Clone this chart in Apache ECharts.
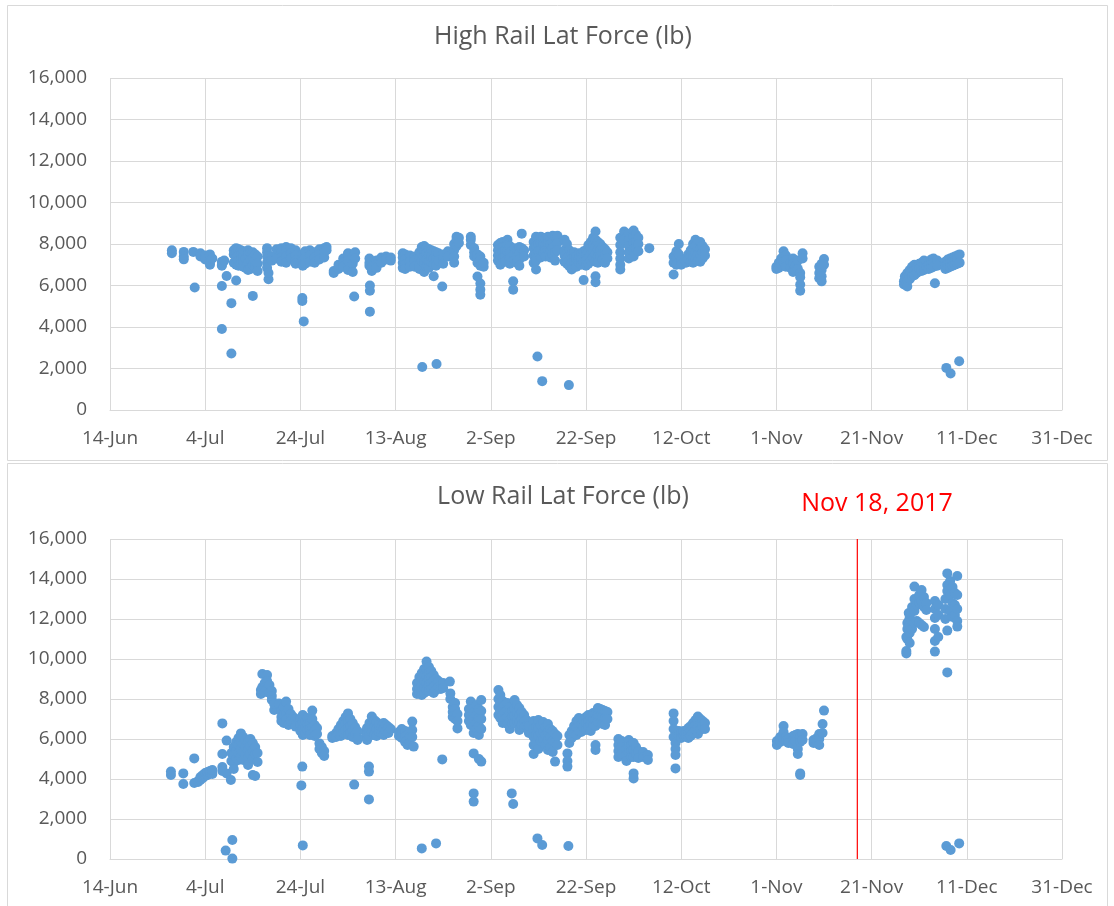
<!DOCTYPE html>
<html>
<head>
<meta charset="utf-8">
<title>Rail Lat Force</title>
<script src="https://cdn.jsdelivr.net/npm/echarts@6/dist/echarts.min.js"></script>
<style>
  html, body { margin: 0; padding: 0; background: #ffffff; }
  #chart { width: 1114px; height: 906px; }
</style>
</head>
<body>
<div id="chart"></div>
<script>
// x values are days after 14-Jun-2017; each entry is [day, [forces in lb]]
const dateTicks = ['14-Jun', '4-Jul', '24-Jul', '13-Aug', '2-Sep', '22-Sep', '12-Oct', '1-Nov', '21-Nov', '11-Dec', '31-Dec'];
const forceTicks = [0, 2000, 4000, 6000, 8000, 10000, 12000, 14000, 16000];
const markerDay = 157; // Nov 18, 2017
const markerText = 'Nov 18, 2017';

const highRail = [
  [13, [7700, 7560]], [15.5, [7620, 7400, 7260]], [17.5, [7620]], [17.8, [5900]],
  [19, [7550, 7400]], [20, [7450, 7250]], [21, [7500, 7100, 7000]], [21.5, [7300]],
  [23.5, [7150, 7000, 6950, 5980, 3900]], [24, [7200]], [24.5, [6460]], [25.5, [5150, 2720]],
  [26, [7700, 7500, 7100]], [26.5, [7800, 7600, 7350, 7000, 6240]],
  [27, [7750, 7450, 7200, 6950]], [27.5, [7700, 7500, 7250, 7050]], [28, [7650, 7400, 7150, 6900]],
  [28.5, [7600, 7300, 6850]], [29, [7700, 7500, 7100, 6750]], [29.5, [7550, 7250, 6800]],
  [30, [7600, 7350, 7000, 5500]], [30.5, [7500, 7200, 6900]], [31, [7400, 7050, 6700]],
  [33, [7800, 7600, 7400, 7100, 6850]], [33.3, [6300, 6600]], [34, [7350, 7200]],
  [35, [7750, 7500, 7300]], [36, [7800, 7600, 7350, 7150]], [37, [7850, 7700, 7400, 7100]],
  [38, [7800, 7550, 7300]], [39, [7700, 7450, 7200, 7050]], [40.4, [5400, 5250]], [40.7, [4270]],
  [40.5, [7500, 7200, 6950]], [41, [7650, 7350, 7050]], [42, [7700, 7450, 7150]],
  [43, [7600, 7350, 7100]], [44, [7750, 7500, 7250]], [45, [7800, 7600, 7350]], [45.5, [7850, 7700]],
  [47, [6700, 6600]], [48, [6800, 7000]], [49, [7300, 7100, 6900]], [50, [7550, 7500, 7200, 6750]],
  [51, [7400, 7050, 6650]], [51.3, [5470]], [51.5, [7600, 7300]],
  [54.5, [7300, 7100, 6950]], [54.6, [6000, 5750, 4740]], [55, [6700, 6900]], [56, [7200, 7000, 6850]],
  [57, [7350, 7100]], [58, [7400, 7250]], [59, [7350, 7200]],
  [61.5, [7550, 7350, 7100, 6850]], [62, [7500, 7250, 7000, 6800]], [63, [7450, 7150, 6900]],
  [64, [7400, 7200, 6900]], [65.6, [2070]], [68.6, [2220]],
  [65, [7600, 7300, 7000, 6800]], [65.5, [7850, 7500, 7200]], [66, [7900, 7650, 7400, 7100, 6650]],
  [66.5, [7800, 7550, 7250, 6900]], [67, [7750, 7450, 7150, 6850]], [67.5, [7700, 7400, 7100]],
  [68, [7650, 7300, 7000, 6450]], [68.5, [7600, 7250, 6950]], [69, [7550, 7200]], [69.8, [5950]],
  [70, [7500, 7300, 7050]], [71, [7650, 7400]], [72.3, [8000, 7700, 7400, 7100]],
  [72.8, [8350, 8200, 7900]], [73.3, [8300, 8050]], [75.8, [8350, 8200, 7950]],
  [76.5, [7800, 7600, 7400]], [77.2, [7500, 7300, 7100, 6430]], [77.8, [7400, 7200, 6950, 6100, 5800, 5550]],
  [78.5, [6900, 7100]],
  [81.5, [7950, 7700, 7450, 7200]], [82, [8050, 7800, 7550, 7300, 7000]], [82.5, [8100, 7850, 7600, 7350]],
  [83, [7900, 7700, 7400, 7150]], [83.5, [8200, 7950, 7650]], [84, [7900, 7600, 7300, 7050]],
  [84.7, [6200, 5800]], [85, [7800, 7500, 7250]], [85.5, [7700, 7400, 7100]],
  [86, [7850, 7550, 7250, 6950]], [86.5, [8500, 7800]], [87, [7700, 7400]],
  [89, [8100, 7800, 7450, 7100]], [89.5, [8350, 7900, 7500, 7200, 6770]], [89.8, [2580]], [90.8, [1390]], [96.4, [1200]],
  [90, [8300, 8000, 7650]], [90.5, [8350, 8050, 7700, 7350]], [91, [8300, 8000, 7600]],
  [91.5, [8250, 7950, 7700, 7400]], [92, [8350, 8050, 7750]], [92.5, [8300, 8000, 7650, 7350]],
  [93, [8400, 8100, 7800, 7500]], [93.5, [8350, 7900, 7600, 7200]], [94, [8400, 8050, 7700]],
  [95.5, [8200, 7700, 7450, 7150]], [96, [8000, 7600, 7300, 7050]], [96.5, [7700, 7450, 7200, 6930]],
  [97, [7500, 7300, 7100, 6770]], [97.5, [7600, 7350, 7150]], [98, [7450, 7250, 7050, 6900]],
  [98.5, [7550, 7300, 7100]], [99, [7500, 7250, 7000]], [99.5, [7650, 7400, 7150, 6260]],
  [100, [7700, 7450, 7200, 6950]], [100.5, [7950, 7600, 7300, 7050]], [101, [8100, 7800, 7500, 7200]],
  [101.5, [8300, 7950, 7650, 7350]], [102, [8600, 8200, 7850, 7500, 7150, 6450, 6160]],
  [102.5, [8100, 7750, 7400, 7100]], [103, [8000, 7700, 7400]], [103.5, [7850, 7550, 7250]],
  [104, [7750, 7450, 7100]], [104.5, [7600, 7300]],
  [107.2, [8300, 7950, 7600, 7300, 7000, 6770]], [108, [8600, 8200]], [109, [8500, 8200, 7900, 7600, 7300]],
  [110, [8650, 8350, 8050, 7750, 7400]], [110.5, [8450, 8100, 7800]], [111, [8300, 8000, 7650]], [113.3, [7800]],
  [118.4, [7400, 7100, 6530]], [119, [7650, 7300, 7000]], [119.5, [8000, 7500]], [120, [7200, 7000]],
  [121, [7300, 7100]], [121.5, [7500, 7250]], [122, [7700, 7400, 7150]], [122.5, [8000, 7650, 7350, 7100]],
  [123, [8200, 7900, 7550, 7250]], [123.5, [8100, 7800, 7500, 7200]], [124, [8100, 7750, 7450, 7150]],
  [124.5, [7900, 7600, 7300]], [125, [7750, 7450]],
  [140, [6900, 6800]], [140.5, [7100, 6850]], [141, [7300, 7050]], [141.5, [7650, 7400, 7150]],
  [142, [7450, 7200, 6900]], [143, [7100, 6850]], [143.5, [7300, 7050, 6650]], [144, [6950, 6700]],
  [144.5, [7200, 6800]], [145, [6600, 6400, 6050, 5750]], [145.5, [7550, 7300]],
  [149, [6900, 6600, 6350]], [149.5, [7050, 6750, 6450, 6200]], [150, [7280, 7000]],
  [166.8, [6200, 6050]], [167, [6450, 6300]], [167.5, [6600, 6400, 6200, 5950]], [168, [6750, 6500, 6300]],
  [168.5, [6900, 6650, 6450]], [169, [7000, 6750, 6500]], [169.5, [6850, 6600]], [170, [7050, 6800]],
  [170.5, [7100, 6900, 6700]], [171, [7200, 6950, 6750]], [171.5, [7150, 6900]], [172, [7000, 6800]],
  [172.5, [7250, 7050, 6850]], [173, [7300, 7100, 6900]], [173.3, [6110]], [173.8, [7200, 6950]],
  [175.5, [7150, 6950, 6800]], [176, [7250, 7050, 6850]], [176.5, [7300, 7100, 6900]],
  [177, [7350, 7150, 6950]], [177.5, [7400, 7200, 7000]], [178, [7450, 7250, 7050]], [178.5, [7500, 7100]],
  [175.7, [2030]], [176.6, [1760]], [178.4, [2350]]
];

const lowRail = [
  [12.8, [4370, 4200]], [15.4, [4280, 3750]], [17.7, [5030, 3800]], [18.5, [3850, 3900]],
  [19, [3950, 4100]], [19.5, [4050, 4200]], [20, [4150, 4300]], [20.5, [4200, 4350]],
  [21, [4300, 4400]], [21.5, [4250, 4450]],
  [23.6, [6780, 5250, 4600, 4400]], [24.3, [420]], [24.5, [5920, 4280]], [25.4, [3950]], [25.7, [950, 20]],
  [25.5, [4900, 5300]], [26, [5600, 5200, 4800, 4500]], [26.5, [5850, 5450, 5050]],
  [27, [6050, 5700, 5300, 4950]], [27.5, [6280, 5900, 5500, 5100]], [28, [6100, 5750, 5350, 4950]],
  [28.5, [5950, 5600, 5200]], [29, [5850, 5450, 5050, 4700]], [29.5, [6000, 5650, 5250]],
  [30, [5800, 5400, 5000, 4200]], [30.5, [5600, 5250, 4150]], [31, [5300, 4850]],
  [31.7, [8450, 8250]], [32, [9250, 8600]], [32.5, [8800, 8350]], [33, [9200, 8900, 8500]],
  [33.5, [8700, 8300]], [34, [8400, 8150, 7950]], [34.5, [7450, 7750]], [35.5, [7780]],
  [36, [7400, 7100, 6900]], [36.5, [7600, 7200, 6800]], [37, [7870, 7300, 7000]],
  [37.5, [7500, 7050, 6700]], [38, [7250, 6900]], [38.5, [7100, 6800]], [39, [7000, 6700, 6620]],
  [40.2, [3680]], [40.4, [4620]], [40.5, [680]],
  [40, [7000, 6700, 6400]], [40.5, [7200, 6850, 6500, 6200]], [41, [6900, 6600, 6300]],
  [41.5, [7050, 6750, 6450]], [42, [6800, 6500, 6200]], [42.5, [7420, 7000, 6600]],
  [43, [6700, 6400, 6150]], [43.5, [6550, 6250]], [44, [5780, 5500]], [44.5, [5600, 5300]], [45, [5400, 5150]],
  [46.7, [6150, 6050]], [47.5, [6300, 6100]], [48, [6500, 6250]], [48.5, [6700, 6400, 6150]],
  [49, [6900, 6600, 6300]], [49.5, [7100, 6750, 6450]], [50, [7280, 6900, 6550, 6200]],
  [50.5, [7000, 6650, 6300]], [51, [6800, 6450, 6100]], [51.3, [3720]], [51.5, [6600, 6250]],
  [52, [6400, 6050, 5950]],
  [53.7, [6350, 6100]], [54, [6550, 6250, 5950]], [54.4, [4620, 4370, 2980]], [54.5, [6800, 6450, 6150]],
  [55, [7120, 6700, 6350]], [55.5, [6950, 6600, 6200]], [56, [6850, 6500, 6150]], [56.5, [6700, 6350]],
  [57, [6600, 6300]], [57.5, [6800, 6500, 6200]], [58, [6700, 6400]], [58.5, [6600, 6300]], [59, [6500]],
  [60.7, [6350, 6150]], [61.3, [6500, 6250, 6050]], [62, [6400, 6150, 5850]], [62.5, [6200, 5950, 5700]],
  [63, [6100, 5800]], [63.5, [6870, 6450, 6100]], [63.8, [5620]],
  [64.5, [8800, 8500, 8250]], [65, [9100, 8800, 8500, 8300]], [65.5, [9300, 9000, 8700, 8400, 8200, 530]],
  [66, [9500, 9200, 8900, 8600, 8300]], [66.5, [9870, 9500, 9150, 8800, 8450]],
  [67, [9600, 9300, 9000, 8700, 8400]], [67.5, [9400, 9100, 8800, 8500]], [68, [9200, 8900, 8600, 8300]],
  [68.5, [9000, 8700, 8450, 780]], [69, [8900, 8600]], [69.5, [8750, 8500]], [69.8, [4980]], [70, [8800, 8550]],
  [71.4, [8870]], [71.5, [8280, 8000]], [72, [7600, 7350, 7100]], [72.5, [7800, 7500, 7000]],
  [73, [7250, 6900, 6530]],
  [75.4, [7500, 7200, 6900]], [75.8, [7870, 7500, 7100, 6700]], [76.4, [7300, 7000, 6600, 6300, 5280, 3280, 2870]],
  [77, [7700, 7200, 6800, 6500]], [77.5, [7500, 7050, 6650, 6200, 5000]], [78, [7950, 7400, 7000, 6500, 4870]],
  [81.6, [8450, 8000, 7600, 7200]], [82, [8200, 7800, 7400, 7050]], [82.5, [7900, 7550, 7200, 6800]],
  [83, [7700, 7350, 7000]], [83.5, [7800, 7450, 7100, 6750]], [84, [7600, 7300, 6900, 6500]],
  [84.4, [3280]], [84.7, [2750]], [84.5, [7400, 7100, 6750]], [85, [7950, 7500, 7150, 6800]],
  [85.5, [7700, 7300, 6900]], [86, [7550, 7200, 6850, 6450]], [86.5, [7350, 7000, 6700]],
  [87, [7200, 6900, 6600]], [87.5, [6950, 6650]], [88, [6300, 6650]],
  [89, [6900, 6500, 6100, 5700, 5250]], [89.8, [1030]], [90.8, [700]], [89.5, [6600, 6200, 5800]],
  [90, [6950, 6550, 6150, 5500]], [90.5, [6700, 6300, 5900]], [91, [6850, 6400, 6000]],
  [91.5, [6600, 6200, 5700]], [92, [6750, 6350, 5950, 5450]], [92.5, [6500, 6100, 5600]],
  [93, [6400, 5900, 5350]], [93.5, [6250, 5850, 4870]], [94, [6150, 5700]],
  [96.1, [5280, 4900, 4620]], [96.3, [650]],
  [96.5, [6200, 5800]], [97, [6400, 6050]], [97.5, [6650, 6300]], [98, [6900, 6550, 6200]],
  [98.5, [7050, 6750, 6400]], [99, [7000, 6700, 6350]], [99.5, [6950, 6600]], [100, [7100, 6800, 6450]],
  [100.5, [7200, 6900, 6600]], [101, [7050, 6750, 6400]], [101.5, [7300, 7000, 6700]],
  [102, [7250, 6950, 6650, 5700, 5450]], [102.5, [7550, 7200, 6850]], [103, [7500, 7150, 6800]],
  [103.5, [7450, 7100, 6750]], [104, [7400, 7050, 6700]], [104.5, [7350, 7000]],
  [106.8, [6000, 5700, 5400, 5100]], [107.5, [5900, 5600, 5250]], [108.5, [5500, 5200, 4900]],
  [109, [5950, 5600, 5300]], [109.5, [5700, 5400, 5100]], [110, [5800, 5450, 5100, 4280, 4030]],
  [110.5, [5600, 5250]], [111, [5400, 5050]], [112, [5350, 5100]], [113, [5200, 4950]],
  [118.4, [7280, 6900, 6500, 6100]], [118.8, [5800, 5500, 5200, 4530]], [119.5, [6400, 6150]],
  [120, [6300, 6050]], [120.5, [6200, 6400]], [121, [6350, 6150]], [121.5, [6550, 6300, 6050]],
  [122, [6650, 6400, 6150]], [122.5, [6800, 6550, 6300]], [123, [6950, 6700, 6450]],
  [123.5, [7120, 6850, 6550, 6250]], [124, [7000, 6750, 6450]], [124.5, [6900, 6650]], [125, [6800, 6500]],
  [140.1, [5900, 5700]], [140.8, [6100, 5850]], [141.5, [6650, 6350, 6000]], [142, [6100, 5900]],
  [142.5, [6000, 5800]], [143.5, [6150, 5950, 5750]], [144, [6200, 5900]], [144.5, [6250, 5500, 5250]],
  [145, [6100, 5850, 4280, 4200]], [145.5, [6250, 5950]],
  [147.8, [5800, 5950]], [148.5, [6050, 5800]], [149, [6250, 6000, 5700]], [149.7, [6750, 6300]], [150, [7420]],
  [167.3, [11100, 10400, 10280]], [167.5, [11800, 11500, 11000]], [167.8, [12300, 11900, 11600]],
  [168, [12100, 11700, 11300, 10800]], [168.5, [12600, 11900, 11500]], [169, [13620, 13000, 12400, 11800]],
  [169.5, [12700, 11900]], [170, [13200, 12800, 11800]], [170.5, [13450, 12900, 11700]],
  [171, [13100, 12600, 11600]], [171.5, [12800, 12450]],
  [173.3, [12900, 12500, 12050, 11500, 10900, 10370]], [174, [12700, 12200, 11100]],
  [175.5, [13000, 12500, 12000]], [175.9, [14280, 13700, 13400, 11420, 9330]],
  [176.5, [13900, 13200, 12400]], [177, [13600, 12800, 12100]], [177.5, [13300, 12700, 12200]],
  [178, [14150, 13200, 12500, 11900, 11620]],
  [175.7, [650]], [176.6, [450]], [178.4, [780]]
];

function toPoints(groups) {
  const pts = [];
  groups.forEach(([day, forces]) => forces.forEach(f => pts.push([day, f])));
  return pts;
}

const FONT = '"Open Sans", Lato, sans-serif';
const GRAY = '#595959';
const LINE = '#d9d9d9';
const DOT = '#5b9bd5';
const RED = '#ff0000';

const fmtThousands = v => String(v).replace(/\B(?=(\d{3})+(?!\d))/g, ',');

function xAxisFor(gridIndex) {
  return {
    gridIndex, type: 'value', min: 0, max: 200, interval: 20,
    axisLine: { show: true, lineStyle: { color: LINE, width: 1 } },
    axisTick: { show: false },
    splitLine: { show: true, lineStyle: { color: LINE, width: 1 } },
    axisLabel: { formatter: v => dateTicks[Math.round(v / 20)], color: GRAY, fontSize: 19, fontFamily: FONT, margin: 19 }
  };
}
function yAxisFor(gridIndex) {
  return {
    gridIndex, type: 'value', min: forceTicks[0], max: forceTicks[forceTicks.length - 1], interval: 2000,
    axisLine: { show: false }, axisTick: { show: false },
    splitLine: { show: true, lineStyle: { color: LINE, width: 1 } },
    axisLabel: { formatter: fmtThousands, color: GRAY, fontSize: 19, fontFamily: FONT, margin: 23 }
  };
}

const chart = echarts.init(document.getElementById('chart'), null, { renderer: 'canvas' });
chart.setOption({
  backgroundColor: '#ffffff',
  animation: false,
  textStyle: { fontFamily: FONT },
  graphic: [
    { type: 'rect', shape: { x: 7.5, y: 5.5, width: 1100, height: 455 }, style: { fill: 'none', stroke: LINE, lineWidth: 1 }, z: -1 },
    { type: 'rect', shape: { x: 7.5, y: 463.5, width: 1100, height: 450 }, style: { fill: 'none', stroke: LINE, lineWidth: 1 }, z: -1 },
    { type: 'text', x: 563, y: 37, style: { text: 'High Rail Lat Force (lb)', textAlign: 'center', textVerticalAlign: 'middle', font: '25px ' + FONT, fill: GRAY } },
    { type: 'text', x: 563, y: 497, style: { text: 'Low Rail Lat Force (lb)', textAlign: 'center', textVerticalAlign: 'middle', font: '25px ' + FONT, fill: GRAY } },
    { type: 'text', x: 877, y: 504, style: { text: markerText, textAlign: 'center', textVerticalAlign: 'middle', font: '25px ' + FONT, fill: RED } }
  ],
  grid: [
    { left: 110, right: 52, top: 78, height: 332 },
    { left: 110, right: 52, top: 539, height: 320 }
  ],
  xAxis: [xAxisFor(0), xAxisFor(1)],
  yAxis: [yAxisFor(0), yAxisFor(1)],
  series: [
    {
      name: 'High Rail Lat Force (lb)', type: 'scatter', xAxisIndex: 0, yAxisIndex: 0,
      data: toPoints(highRail), symbolSize: 10, itemStyle: { color: DOT, opacity: 1 }
    },
    {
      name: 'Low Rail Lat Force (lb)', type: 'scatter', xAxisIndex: 1, yAxisIndex: 1,
      data: toPoints(lowRail), symbolSize: 10, itemStyle: { color: DOT, opacity: 1 }
    },
    {
      // vertical marker at Nov 18, 2017 spanning the full force range
      name: markerText, type: 'line', xAxisIndex: 1, yAxisIndex: 1,
      data: [[markerDay, forceTicks[0]], [markerDay, forceTicks[forceTicks.length - 1]]],
      showSymbol: false, symbol: 'none', silent: true, z: 1,
      lineStyle: { color: RED, width: 1.2 }, itemStyle: { color: RED }
    }
  ]
});
</script>
</body>
</html>
